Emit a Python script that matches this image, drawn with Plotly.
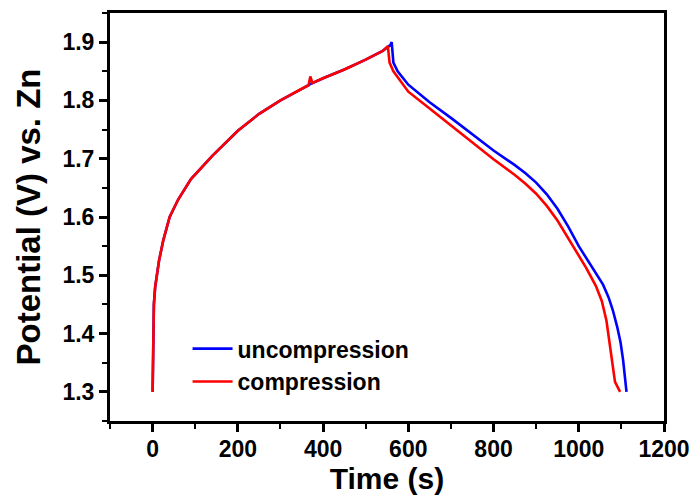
import plotly.graph_objects as go

# uncompression (blue)
t_unc = [0, 1, 3, 6, 10, 15, 25, 40, 60, 90, 140, 200, 250, 300, 350, 370, 400, 450, 500, 540,
         558, 561, 565, 575, 600, 650, 700, 750, 800, 850, 875, 900, 925, 950, 975, 1000, 1020,
         1040, 1057, 1070, 1080, 1090, 1098, 1104, 1109, 1112]
v_unc = [1.30, 1.42, 1.45, 1.48, 1.50, 1.525, 1.56, 1.60, 1.63, 1.665, 1.705, 1.748, 1.777, 1.80,
         1.82, 1.828, 1.838, 1.853, 1.87, 1.885, 1.895, 1.90, 1.865, 1.85, 1.827, 1.797, 1.77,
         1.742, 1.714, 1.689, 1.675, 1.659, 1.639, 1.614, 1.584, 1.55, 1.527, 1.505, 1.484,
         1.462, 1.44, 1.412, 1.385, 1.355, 1.325, 1.30]

# compression (red)
t_com = [0, 1, 3, 6, 10, 15, 25, 40, 60, 90, 140, 200, 250, 300, 350, 366, 370, 375, 400, 450, 500,
         540, 552, 556, 565, 575, 600, 650, 700, 750, 800, 850, 875, 900, 925, 950, 975, 1000,
         1018, 1040, 1054, 1065, 1073, 1080, 1085, 1097]
v_com = [1.30, 1.42, 1.45, 1.48, 1.50, 1.525, 1.56, 1.60, 1.63, 1.665, 1.705, 1.748, 1.777, 1.80,
         1.82, 1.826, 1.841, 1.83, 1.838, 1.853, 1.87, 1.885, 1.893, 1.865, 1.85, 1.84, 1.815,
         1.786, 1.757, 1.728, 1.699, 1.672, 1.657, 1.640, 1.619, 1.594, 1.564, 1.532, 1.512,
         1.482, 1.456, 1.422, 1.38, 1.345, 1.317, 1.30]

series_names = ["uncompression", "compression"]
series_colors = ["#0000ff", "#ff0000"]

FONT = "Liberation Sans, Arial, sans-serif"

fig = go.Figure()
for name, color, t, v in zip(series_names, series_colors, [t_unc, t_com], [v_unc, v_com]):
    fig.add_trace(go.Scatter(x=t, y=v, mode="lines", name=name,
                             line=dict(color=color, width=2.6)))

axis_common = dict(
    showline=True, linecolor="black", linewidth=3, mirror=True,
    ticks="outside", ticklen=8, tickwidth=2.5, tickcolor="black",
    showgrid=False, zeroline=False, automargin=False,
    tickfont=dict(family=FONT, size=23, color="black", weight="bold"),
)

fig.update_xaxes(
    range=[-100, 1200], dtick=200, tick0=0, ticklabelstandoff=-3,
    minor=dict(ticks="outside", ticklen=5, tickwidth=2, tickcolor="black", dtick=100, tick0=0),
    title=dict(text="Time (s)", font=dict(family=FONT, size=30, color="black", weight="bold"),
               standoff=8),
    **axis_common,
)
fig.update_yaxes(
    range=[1.25, 1.95], dtick=0.1, tick0=1.3, tickformat=".1f",
    minor=dict(ticks="outside", ticklen=5, tickwidth=2, tickcolor="black", dtick=0.05, tick0=1.25),
    title=dict(text="Potential (V) vs. Zn", font=dict(family=FONT, size=33, color="black", weight="bold"),
               standoff=12),
    **axis_common,
)

fig.update_layout(
    width=695, height=500,
    margin=dict(l=110, r=31, t=13, b=79),
    paper_bgcolor="white", plot_bgcolor="white",
    legend=dict(x=0.14, y=0.23, xanchor="left", yanchor="top",
                font=dict(family=FONT, size=23, color="black", weight="bold"),
                bgcolor="rgba(0,0,0,0)", itemwidth=40, tracegroupgap=0),
)

fig.write_html("out.html")
